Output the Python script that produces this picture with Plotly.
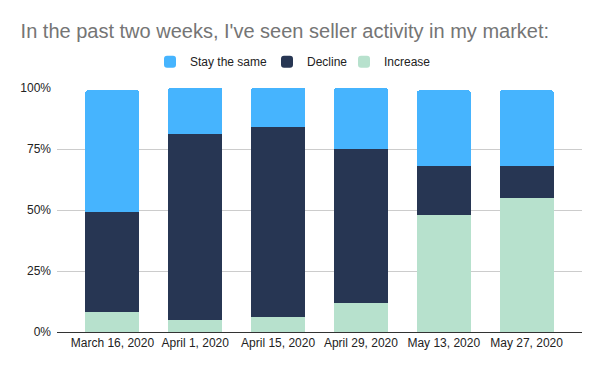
import plotly.graph_objects as go

categories = ["March 16, 2020", "April 1, 2020", "April 15, 2020", "April 29, 2020", "May 13, 2020", "May 27, 2020"]
increase = [8, 5, 6, 12, 48, 55]
decline = [41, 76, 78, 63, 20, 13]
stay_same = [50, 19, 16, 25, 31, 31]
y_ticks = [0, 25, 50, 75, 100]
y_tick_labels = ["0%", "25%", "50%", "75%", "100%"]

font = "Liberation Sans, Arial, sans-serif"

fig = go.Figure()
fig.add_trace(go.Bar(name="Increase", x=categories, y=increase, marker_color="#b7e1cd", legend="legend3"))
fig.add_trace(go.Bar(name="Decline", x=categories, y=decline, marker_color="#273653", legend="legend2"))
fig.add_trace(go.Bar(name="Stay the same", x=categories, y=stay_same, marker_color="#46b4fe", legend="legend"))

fig.update_traces(marker_line_width=0, showlegend=True)

leg_common = dict(orientation="h", xref="container", yref="container", xanchor="left",
                  yanchor="middle", y=0.855, font=dict(size=12, color="#222222"),
                  itemwidth=30, bgcolor="rgba(0,0,0,0)", borderwidth=0)

fig.update_layout(
    barmode="stack",
    bargap=0.35,
    barcornerradius=2,
    width=600, height=371,
    margin=dict(l=49, r=26, t=80, b=47, autoexpand=False),
    paper_bgcolor="white", plot_bgcolor="white",
    font=dict(family=font, size=12, color="#222222"),
    title=dict(text="In the past two weeks, I've seen seller activity in my market:",
               xref="container", yref="container",
               x=0.021, xanchor="left", y=0.938, yanchor="middle",
               font=dict(family=font, size=20, color="#757575")),
    legend=dict(x=142 / 600, **leg_common),
    legend2=dict(x=259 / 600, **leg_common),
    legend3=dict(x=336 / 600, **leg_common),
    xaxis=dict(range=[-0.669, 5.669], showgrid=False, showline=True, linecolor="#333333",
               linewidth=1, ticks="", tickangle=0, automargin=False, tickfont=dict(size=12)),
    yaxis=dict(range=[0, 100], tickvals=y_ticks, ticktext=y_tick_labels, showgrid=True,
               gridcolor="#cccccc", gridwidth=1, zeroline=False, ticks="", automargin=False,
               tickfont=dict(size=12), ticklabelstandoff=5),
)

fig.write_html("out.html")
